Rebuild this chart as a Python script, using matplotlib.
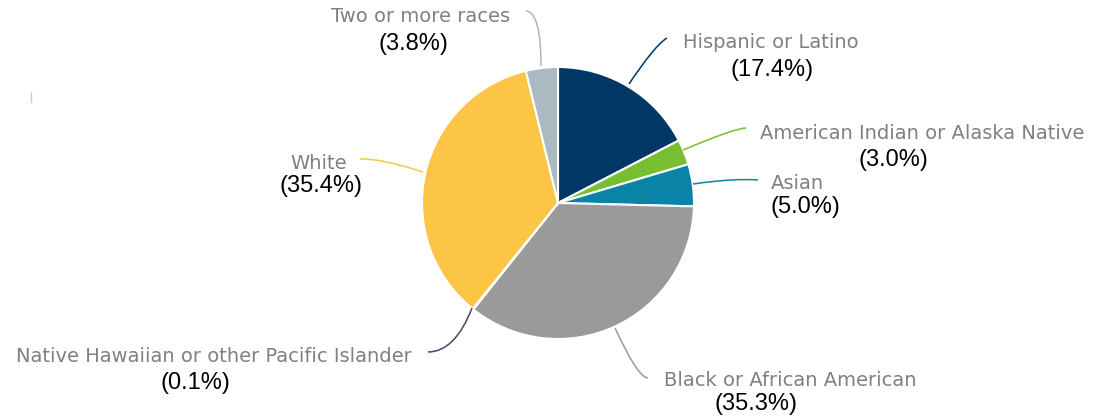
import matplotlib.pyplot as plt
from matplotlib.path import Path
from matplotlib.patches import PathPatch

groups = ['Hispanic or Latino', 'American Indian or Alaska Native', 'Asian',
          'Black or African American', 'Native Hawaiian or other Pacific Islander',
          'White', 'Two or more races']
shares = [17.4, 3.0, 5.0, 35.3, 0.1, 35.4, 3.8]
colors = ['#003764', '#78be31', '#0a84a6', '#9a9a9a', '#5b3b6b', '#fdc545', '#a9bac3']

W, H = 1093, 417

# label placement in pixels: name centre, percent centre, connector points
name_pos = [(771, 42), (922, 133), (797, 183), (790, 380), (214, 356), (319, 163), (421, 16)]
pct_pos = [(772, 70), (893, 160), (805, 207), (756, 404), (195, 383), (321, 186), (413, 44)]
leaders = [
    [(629, 84), (655, 45), (667, 38)],
    [(683, 150), (735, 128), (746, 128)],
    [(693, 184), (735, 178), (758, 180)],
    [(615, 328), (638, 378), (648, 378)],
    [(472, 308), (455, 352), (428, 352)],
    [(423, 172), (380, 158), (360, 159)],
    [(541, 66), (541, 12), (526, 11)],
]

fig = plt.figure(figsize=(W / 100, H / 100), dpi=100)
ax = fig.add_axes([0, 0, 1, 1])

ax.pie(shares, colors=colors, startangle=90, counterclock=False,
       center=(558, H - 203), radius=136,
       wedgeprops=dict(edgecolor='white', linewidth=1.5))
ax.set_xlim(0, W)
ax.set_ylim(0, H)
ax.set_aspect('equal')
ax.axis('off')

for i, g in enumerate(groups):
    pts = [(x, H - y) for x, y in leaders[i]]
    path = Path(pts, [Path.MOVETO, Path.CURVE3, Path.CURVE3])
    ax.add_patch(PathPatch(path, fill=False, edgecolor=colors[i], linewidth=1.1))
    nx, ny = name_pos[i]
    ax.text(nx, H - ny, g, ha='center', va='center', fontsize=14,
            family='DejaVu Sans', color='#808080')
    px, py = pct_pos[i]
    ax.text(px, H - py, '(%.1f%%)' % shares[i], ha='center', va='center',
            fontsize=17, family='Liberation Sans', color='black')

# faint mark at the left edge
ax.plot([31, 31], [H - 92, H - 102], color='#cccccc', linewidth=1)

plt.savefig('out.png', dpi=100)
